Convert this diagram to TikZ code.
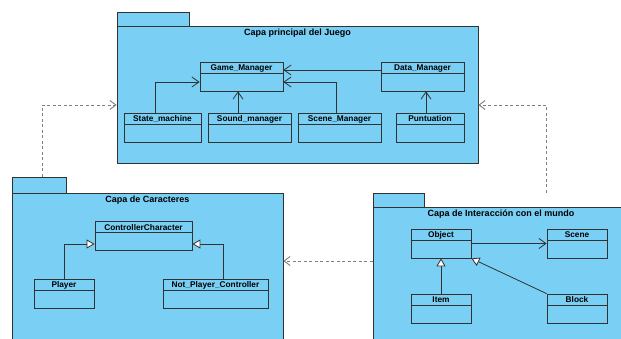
\documentclass[tikz,border=0pt]{standalone}
\usepackage{fontspec}
\usepackage{tikz}
\usetikzlibrary{positioning, arrows.meta, calc}
\usepackage{xcolor}

\newfontfamily\umlfont{Liberation Sans}
\newcommand{\clsfont}{\umlfont\bfseries\fontsize{8.3}{9.5}\selectfont}
\newcommand{\ttlfont}{\umlfont\bfseries\fontsize{9}{10.5}\selectfont}

\definecolor{pkgblue}{RGB}{122,207,245}
\definecolor{linec}{RGB}{50,50,50}
\definecolor{depgray}{RGB}{128,128,128}

\begin{document}
\begin{tikzpicture}[
    x=1pt, y=-1pt,
    pkg/.style={draw=linec, fill=pkgblue, line width=0.8pt, inner sep=0pt},
    pkgtitle/.style={anchor=north, font=\ttlfont, yshift=-2pt, inner sep=1pt},
    cls/.style={draw=linec, fill=pkgblue, line width=0.8pt, font=\clsfont,
        inner xsep=2pt, inner ysep=2pt, text height=6.5pt, text depth=18.5pt,
        minimum height=29pt,
        path picture={\draw[linec, line width=0.8pt]
            ([yshift=-11pt]path picture bounding box.north west) --
            ([yshift=-11pt]path picture bounding box.north east);}},
    assoc/.style={draw=linec, line width=0.8pt, -{Straight Barb[length=7pt,width=10pt]}},
    gen/.style={draw=linec, line width=0.8pt, -{Triangle[length=8pt,width=9pt,fill=white]}},
    dep/.style={draw=depgray, line width=0.9pt, dash pattern=on 3pt off 2.5pt,
        -{Straight Barb[length=6pt,width=9pt]}}
]
    \fill[white] (0,0) rectangle (621,339);
    \useasboundingbox (0,0) rectangle (621,339);

    % Packages (tab + body)
    \node[pkg, minimum width=72pt, minimum height=14pt] (tab1) at (153,19) {};
    \node[pkg, minimum width=361pt, minimum height=137pt,
        label={[pkgtitle]north:Capa principal del Juego}] (p1) at (297.5,94.5) {};
    \node[pkg, minimum width=54pt, minimum height=16pt] (tab2) at (39,185) {};
    \node[pkg, minimum width=271pt, minimum height=152pt,
        label={[pkgtitle]north:Capa de Caracteres}] (p2) at (147.5,269) {};
    \node[pkg, minimum width=51pt, minimum height=14pt] (tab3) at (398.5,200) {};
    \node[pkg, minimum width=257pt, minimum height=138pt] (p3) at (501.5,276) {};
    \node[pkgtitle] (t3) at (501,207) {Capa de Interacción con el mundo};

    % Classes of the main layer
    \node[cls, minimum width=83pt] (gm) at (241.5,76.5) {Game\_Manager};
    \node[cls, minimum width=83pt] (dm) at (422.5,76.5) {Data\_Manager};
    \node[cls, minimum width=77pt] (sm) at (162.5,127.5) {State\_machine};
    \node[cls, minimum width=83pt] (snd) at (249.5,127.5) {Sound\_manager};
    \node[cls, minimum width=83pt] (scm) at (339.5,127.5) {Scene\_Manager};
    \node[cls, minimum width=68pt] (pt) at (430,127.5) {Puntuation};

    % Classes of the characters layer
    \node[cls, minimum width=97pt] (cc) at (143.5,236) {ControllerCharacter};
    \node[cls, minimum width=60pt] (pl) at (64,293.5) {Player};
    \node[cls, minimum width=105pt] (npc) at (215.5,293.5) {Not\_Player\_Controller};

    % Classes of the interaction layer
    \node[cls, minimum width=60pt] (obj) at (441,243.5) {Object};
    \node[cls, minimum width=60pt] (scn) at (577,243.5) {Scene};
    \node[cls, minimum width=60pt] (itm) at (441,308.5) {Item};
    \node[cls, minimum width=60pt] (blk) at (577,308.5) {Block};

    % Associations
    \draw[assoc] ([xshift=-7.5pt]sm.north) |- ([yshift=-5.5pt]gm.west);
    \draw[assoc] ([xshift=-11.5pt]snd.north) -- ([xshift=-3.5pt]gm.south);
    \draw[assoc] ([xshift=-3.5pt]scm.north) |- ([yshift=-5.5pt]gm.east);
    \draw[assoc] ([yshift=6.5pt]dm.west) -- ([yshift=6.5pt]gm.east);
    \draw[assoc] ([xshift=-4pt]pt.north) -- ([xshift=3.5pt]dm.south);
    \draw[assoc] (obj.east) -- (scn.west);

    % Generalizations
    \draw[gen] (pl.north) |- ([yshift=-8pt]cc.west);
    \draw[gen] ([xshift=7.5pt]npc.north) |- ([yshift=-8pt]cc.east);
    \draw[gen] (itm.north) -- (obj.south);
    \draw[gen] (blk.north west) -- (obj.south east);

    % Dependencies between layers
    \draw[dep] ([xshift=3pt]tab2.north) |- ([yshift=-10.5pt]p1.west);
    \draw[dep] (tab3.north -| scn.west) |- ([yshift=-10.5pt]p1.east);
    \draw[dep] ([yshift=15pt]p3.west) -- ([yshift=15pt]p3.west -| p2.east);
\end{tikzpicture}
\end{document}
